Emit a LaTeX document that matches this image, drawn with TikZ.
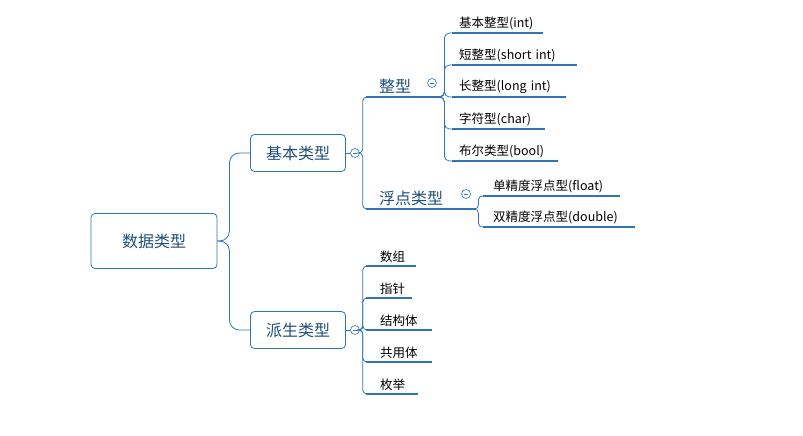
\documentclass[tikz,border=0pt]{standalone}
\usepackage{fontspec}
\setmainfont{Noto Sans CJK SC}
\usetikzlibrary{positioning}

\definecolor{mapblue}{RGB}{46,117,182}
\definecolor{labblue}{RGB}{31,78,121}

\tikzset{
  conn/.style={draw=mapblue, line width=0.8pt},
  uline/.style={draw=mapblue, line width=2.4pt},
  topic/.style={draw=mapblue, rounded corners=4pt, line width=0.8pt, text=labblue, font=\fontsize{16}{18}\selectfont, inner sep=0},
  sub/.style={anchor=south west, inner xsep=0, inner ysep=3pt, align=left, text=labblue, font=\fontsize{16}{18}\selectfont},
  leaf/.style={anchor=south west, inner xsep=0, inner ysep=3pt, align=left, font=\fontsize{12.5}{14}\selectfont},
  fold/.style={circle, draw=mapblue, fill=white, line width=0.6pt, minimum size=9pt, inner sep=0,
    path picture={\draw[mapblue, line width=0.6pt] ([xshift=-2.2pt]path picture bounding box.center) -- ([xshift=2.2pt]path picture bounding box.center);}}
}

\begin{document}
\begin{tikzpicture}[x=1pt, y=-1pt]
  \useasboundingbox (0,0) rectangle (803,436);

  \node[topic, minimum width=126pt, minimum height=55pt] (root) at (154,241) {数据类型};
  \node[topic, minimum width=95pt, minimum height=37pt] (base) at (298,153) {基本类型};
  \node[topic, minimum width=95pt, minimum height=37pt] (deriv) at (298,330) {派生类型};
  \node[fold] (fbase) at (355,153) {};
  \node[fold] (fderiv) at (355,330) {};

  \draw[conn, rounded corners=10pt] (root.east) -- ++(12,0) |- (base.west);
  \draw[conn, rounded corners=10pt] (root.east) -- ++(12,0) |- (deriv.west);
  \draw[conn] (base.east) -- (fbase.west);
  \draw[conn] (deriv.east) -- (fderiv.west);

  % basic types
  \node[sub, text width=74pt] (int) at (366,97) {\hspace*{13pt}整型};
  \node[sub, text width=109pt] (flt) at (366,209) {\hspace*{13pt}浮点类型};
  \draw[uline] (int.south west) -- (int.south east);
  \draw[uline] (flt.south west) -- (flt.south east);
  \node[fold] (fint) at (432,83) {};
  \node[fold] (fflt) at (466,194) {};
  \draw[conn, rounded corners=4pt] (fbase.east) -- ++(3,0) |- (int.south west);
  \draw[conn, rounded corners=4pt] (fbase.east) -- ++(3,0) |- (flt.south west);

  % integer kinds
  \node[leaf, text width=91pt] (i1) at (452,33) {\hspace*{7pt}基本整型(int)};
  \node[leaf, text width=125pt] (i2) at (452,65) {\hspace*{7pt}短整型(short int)};
  \node[leaf, text width=114pt] (i3) at (452,97) {\hspace*{7pt}长整型(long int)};
  \node[leaf, text width=93pt] (i4) at (452,129) {\hspace*{7pt}字符型(char)};
  \node[leaf, text width=106pt] (i5) at (452,161) {\hspace*{7pt}布尔类型(bool)};
  \foreach \n in {i1,i2,i3,i4,i5} {
    \draw[uline] (\n.south west) -- (\n.south east);
    \draw[conn, rounded corners=5pt] (int.south east) -- ++(4,0) |- (\n.south west);
  }

  % floating kinds
  \node[leaf, text width=137pt] (f1) at (483,196) {\hspace*{10pt}单精度浮点型(float)};
  \node[leaf, text width=152pt] (f2) at (483,227) {\hspace*{10pt}双精度浮点型(double)};
  \foreach \n in {f1,f2} {
    \draw[uline] (\n.south west) -- (\n.south east);
    \draw[conn, rounded corners=4pt] (flt.south east) -- ++(3,0) |- (\n.south west);
  }

  % derived types
  \node[leaf, text width=50pt] (d1) at (366,266) {\hspace*{14pt}数组};
  \node[leaf, text width=46pt] (d2) at (366,298) {\hspace*{14pt}指针};
  \node[leaf, text width=66pt] (d3) at (366,330) {\hspace*{14pt}结构体};
  \node[leaf, text width=66pt] (d4) at (366,362) {\hspace*{14pt}共用体};
  \node[leaf, text width=52pt] (d5) at (366,394) {\hspace*{14pt}枚举};
  \foreach \n in {d1,d2,d3,d4,d5} {
    \draw[uline] (\n.south west) -- (\n.south east);
    \draw[conn, rounded corners=4pt] (fderiv.east) -- ++(3,0) |- (\n.south west);
  }
\end{tikzpicture}
\end{document}
